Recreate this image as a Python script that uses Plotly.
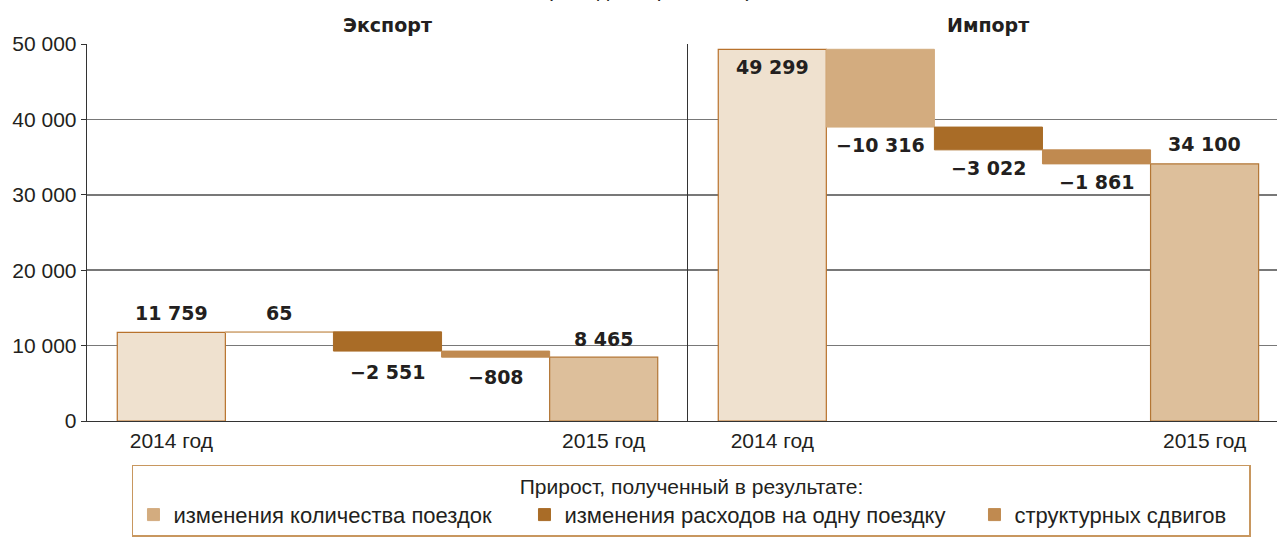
import plotly.graph_objects as go

# ---------------- data ----------------
CATEGORY_LABELS = ["2014 год", "", "", "", "2015 год"]
SERIES_NAMES = ["изменения количества поездок",
                "изменения расходов на одну поездку",
                "структурных сдвигов"]

EXPORT_2014 = 11759
EXPORT_CHANGES = [65, -2551, -808]
EXPORT_2015 = 8465

IMPORT_2014 = 49299
IMPORT_CHANGES = [-10316, -3022, -1861]
IMPORT_2015 = 34100

Y_TICK_VALUES = [0, 10000, 20000, 30000, 40000, 50000]
Y_TICK_LABELS = ["0", "10 000", "20 000", "30 000", "40 000", "50 000"]

PANEL_TITLES = ["Экспорт", "Импорт"]
UNITS_TITLE = "(млн долларов США)"
LEGEND_TITLE = "Прирост, полученный в результате:"

# ---------------- style ----------------
FONT = "Liberation Sans"
BOLD_FONT = "DejaVu Sans"
TEXT = "#231F20"
START_FILL, START_LINE = "#EFE1CF", "#B8722C"
END_FILL, END_LINE = "#DDBF9B", "#B37635"
SERIES_COLORS = ["#D3AC7F", "#A96C27", "#C08A50"]
LEGEND_WIDTHS = [346, 405, 230]
# vertical pixel offsets of value labels from the end of each step
EXPORT_SHIFTS = [19, 19, -21, -20, 18]
IMPORT_SHIFTS = [-18, -18, -18, -18, 20]


def fmt(v):
    s = f"{abs(v):,}".replace(",", " ")
    return ("−" if v < 0 else "") + s


fig = go.Figure()
annotations = []

panels = [
    ("x", "y", EXPORT_2014, EXPORT_CHANGES, EXPORT_2015, EXPORT_SHIFTS),
    ("x2", "y2", IMPORT_2014, IMPORT_CHANGES, IMPORT_2015, IMPORT_SHIFTS),
]

for p, (xa, ya, start, changes, end, shifts) in enumerate(panels):
    n = len(changes) + 2
    # totals
    fig.add_trace(go.Bar(
        x=[0, n - 1], y=[start, end], width=1,
        marker=dict(color=[START_FILL, END_FILL],
                    line=dict(color=[START_LINE, END_LINE], width=1.2)),
        xaxis=xa, yaxis=ya, showlegend=False, hoverinfo="skip"))
    # changes
    running = start
    ends = [start]
    for i, ch in enumerate(changes):
        fig.add_trace(go.Bar(
            x=[i + 1], y=[ch], base=[running], width=1,
            name=SERIES_NAMES[i],
            marker=dict(color=SERIES_COLORS[i],
                        line=dict(color=SERIES_COLORS[i], width=1)),
            xaxis=xa, yaxis=ya, legendgroup=SERIES_NAMES[i],
            showlegend=(p == 0), legendwidth=LEGEND_WIDTHS[i],
            hoverinfo="skip"))
        running += ch
        ends.append(running)
    ends.append(end)
    values = [start] + changes + [end]
    for i, (v, yv) in enumerate(zip(values, ends)):
        annotations.append(dict(
            x=i, y=yv, xref=xa, yref=ya, text=fmt(v), showarrow=False,
            yanchor="middle", yshift=shifts[i],
            font=dict(family=BOLD_FONT, size=19, color=TEXT, weight="bold")))
    annotations.append(dict(
        x=(n - 1) / 2, y=1, xref=xa, yref="paper", text=PANEL_TITLES[p],
        showarrow=False, yanchor="middle", yshift=19,
        font=dict(family=BOLD_FONT, size=19, color=TEXT, weight="bold")))

annotations.append(dict(
    x=0.473, y=1, xref="paper", yref="paper", text=UNITS_TITLE,
    showarrow=False, yanchor="bottom", yshift=41,
    font=dict(family=FONT, size=21, color=TEXT)))

axis_font = dict(family=FONT, size=21, color=TEXT)
grid = dict(showgrid=True, gridcolor="#787878", gridwidth=1.5)

fig.update_layout(
    width=1277, height=538,
    margin=dict(l=87, r=0, t=44, b=117, autoexpand=False),
    paper_bgcolor="white", plot_bgcolor="white",
    barmode="overlay", bargap=0,
    font=axis_font,
    annotations=annotations,
    xaxis=dict(domain=[0, 0.50504], range=[-0.78, 4.78],
               tickvals=list(range(len(CATEGORY_LABELS))),
               ticktext=CATEGORY_LABELS, showgrid=False,
               showline=True, linecolor="#333333", linewidth=1.3,
               ticks="", tickfont=axis_font, zeroline=False),
    xaxis2=dict(domain=[0.50504, 1], range=[-0.78, 4.67],
                tickvals=list(range(len(CATEGORY_LABELS))),
                ticktext=CATEGORY_LABELS, showgrid=False,
                showline=True, linecolor="#333333", linewidth=1.3,
                ticks="", tickfont=axis_font, zeroline=False),
    yaxis=dict(range=[0, 50000], tickvals=Y_TICK_VALUES,
               ticktext=Y_TICK_LABELS, showline=True,
               linecolor="#333333", linewidth=1.3, ticks="outside",
               ticklen=5, tickcolor="#333333", tickfont=axis_font,
               zeroline=False, anchor="x", **grid),
    yaxis2=dict(range=[0, 50000], tickvals=Y_TICK_VALUES,
                showticklabels=False, showline=True,
                linecolor="#333333", linewidth=1.3, ticks="",
                zeroline=False, anchor="x2", matches="y", **grid),
    legend=dict(orientation="h", x=0.0378, xanchor="left",
                y=-0.1167, yanchor="top",
                bordercolor="#C8975F", borderwidth=1.5, bgcolor="white",
                font=dict(family=FONT, size=22, color=TEXT),
                title=dict(text=LEGEND_TITLE, side="top center",
                           font=dict(family=FONT, size=21, color=TEXT)),
                traceorder="normal"),
)

fig.write_html(
    "out.html",
    config={"displayModeBar": False, "staticPlot": True},
    post_script="document.body.style.margin='0';"
                "document.body.style.overflow='hidden';",
)
